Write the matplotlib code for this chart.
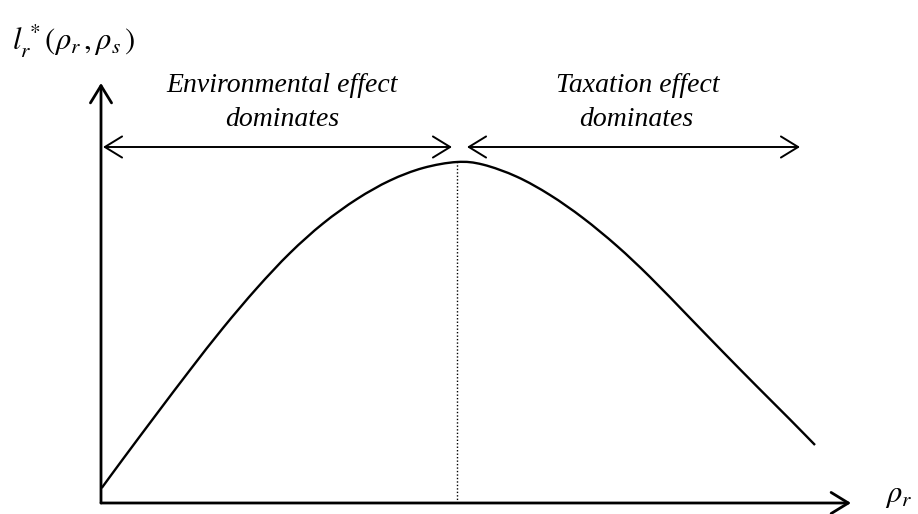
import matplotlib
matplotlib.use("Agg")
import matplotlib.pyplot as plt
from matplotlib.path import Path
from matplotlib.patches import PathPatch

plt.rcParams["mathtext.fontset"] = "stix"
plt.rcParams["font.family"] = ["Liberation Serif", "DejaVu Serif"]

# curve (origin = axis corner)
rho_r = [0.7, 22, 56, 89, 122, 156, 189, 222, 256, 289, 322, 356,
         382, 416, 449, 482, 516, 549, 589, 622, 656, 689, 714]
labour = [15, 44, 89.5, 133, 175, 215, 250, 279.5, 304, 322.5, 335, 341,
          338.4, 326.2, 308, 285, 257, 226, 185, 151, 116.5, 83.5, 58]

peak_x = 356
peak_y = 341
x_end = 750
y_end = 420
band_y = 356
env_span = (2, 351)
tax_span = (366, 699)

label_env = ["Environmental effect", "dominates"]
label_tax = ["Taxation effect", "dominates"]


def smooth_path(xs, ys):
    # catmull-rom through the read points, drawn as cubic bezier segments
    pts = list(zip(xs, ys))
    verts = [pts[0]]
    codes = [Path.MOVETO]
    for i in range(len(pts) - 1):
        p0 = pts[i - 1] if i > 0 else pts[i]
        p1 = pts[i]
        p2 = pts[i + 1]
        p3 = pts[i + 2] if i + 2 < len(pts) else pts[i + 1]
        c1 = (p1[0] + (p2[0] - p0[0]) / 6, p1[1] + (p2[1] - p0[1]) / 6)
        c2 = (p2[0] - (p3[0] - p1[0]) / 6, p2[1] - (p3[1] - p1[1]) / 6)
        verts += [c1, c2, p2]
        codes += [Path.CURVE4] * 3
    return Path(verts, codes)


fig = plt.figure(figsize=(9.18, 5.14), dpi=100)
ax = fig.add_axes([0, 0, 1, 1])
ax.set_xlim(-101, 817)
ax.set_ylim(-11, 503)
ax.axis("off")

head = dict(shrinkA=0, shrinkB=0, mutation_scale=20, color="black")
style_one = "->,head_length=0.62,head_width=0.38"
style_two = "<->,head_length=0.62,head_width=0.38"

# axes with open arrowheads
ax.annotate("", xy=(x_end, 0), xytext=(0, 0), arrowprops=dict(arrowstyle=style_one, lw=2, **head))
ax.annotate("", xy=(0, y_end), xytext=(0, 0), arrowprops=dict(arrowstyle=style_one, lw=2, **head))

ax.add_patch(PathPatch(smooth_path(rho_r, labour), facecolor="none", edgecolor="black", lw=1.7))
ax.plot([peak_x, peak_x], [0, peak_y], color="black", lw=1.0, linestyle=(0, (1, 1.5)))

for span in (env_span, tax_span):
    ax.annotate("", xy=(span[1], band_y), xytext=(span[0], band_y),
                arrowprops=dict(arrowstyle=style_two, lw=1.4, **head))

ax.text(181, 417, label_env[0], style="italic", fontsize=20, ha="center", va="center")
ax.text(181, 383, label_env[1], style="italic", fontsize=20, ha="center", va="center")
ax.text(537, 417, label_tax[0], style="italic", fontsize=20, ha="center", va="center")
ax.text(535, 383, label_tax[1], style="italic", fontsize=20, ha="center", va="center")

ax.text(-89, 462, r"$l_r^{\,*}(\rho_r\,,\rho_s\,)$", fontsize=22, ha="left", va="center")
ax.text(784, 8, r"$\rho_r$", fontsize=22, ha="left", va="center")

fig.savefig("out.png", dpi=100)
